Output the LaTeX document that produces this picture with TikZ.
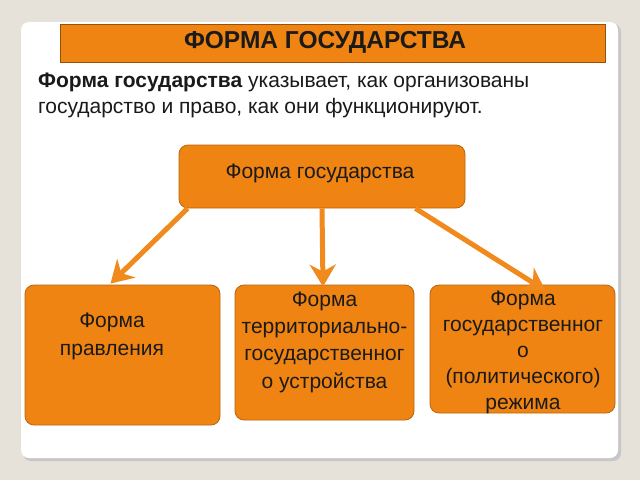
\documentclass[tikz,border=0pt]{standalone}
\usepackage{fontspec}
\setmainfont{Liberation Sans}
\usetikzlibrary{arrows.meta,calc}
\definecolor{bgc}{HTML}{E6E1D9}
\definecolor{orng}{HTML}{EF8412}
\definecolor{brd}{HTML}{B8650C}
\definecolor{arr}{HTML}{F08A1C}
\definecolor{txt}{HTML}{1A1A1A}
\tikzset{
  obox/.style={draw=brd, line width=0.8pt, fill=orng, rounded corners=9pt, inner sep=0pt},
  btext/.style={align=center, text=txt, inner sep=0pt},
  conn/.style={draw=arr, line width=5pt, -{Stealth[width=26pt,length=22pt,inset=7pt]}},
}
\begin{document}
\begin{tikzpicture}[x=1pt,y=-1pt]
\useasboundingbox (0,0) rectangle (640,480);
\fill[bgc] (0,0) rectangle (640,480);
% card shadow and card
\fill[black!22, rounded corners=8pt] (23,24) rectangle (621,461);
\fill[white, rounded corners=8pt] (21,22) rectangle (618,458);
% title
\node[draw=brd!80!black, line width=0.8pt, fill=orng, minimum width=545pt, minimum height=38pt, inner sep=0pt] (title) at (332.5,43) {};
\node[inner sep=0pt, font=\bfseries\fontsize{24.5}{26}\selectfont, text=txt] (titlet) at (325,42) {ФОРМА ГОСУДАРСТВА};
% paragraph
\node[anchor=base west, align=left, inner sep=0pt, font=\fontsize{21}{26}\selectfont, text=txt] (para) at (38,113)
  {\textbf{Форма государства} указывает, как организованы\\государство и право, как они функционируют.};
% top node
\node[obox, minimum width=286pt, minimum height=63pt] (top) at (322,176.5) {};
\node[btext, font=\fontsize{21}{26}\selectfont] (topt) at (320,173) {Форма государства};
% bottom boxes
\node[obox, minimum width=195pt, minimum height=140pt] (b1) at (122.5,355) {};
\node[btext, font=\fontsize{21}{28}\selectfont] (b1t) at (112,336) {Форма\\правления};
\node[obox, minimum width=179pt, minimum height=135pt] (b2) at (324.5,352.5) {};
\node[btext, font=\fontsize{21}{27.3}\selectfont] (b2t) at (324.5,342) {Форма\\территориально-\\государственног\\о устройства};
\node[obox, minimum width=185pt, minimum height=128pt] (b3) at (522.5,349) {};
\node[btext, font=\fontsize{21}{26}\selectfont] (b3t) at (523,352.5) {Форма\\государственног\\о\\(политического)\\режима};
% connectors
\draw[conn] ([xshift=9pt]top.south west) -- ([xshift=-12pt,yshift=1pt]b1.north);
\draw[conn] (top.south) -- ([xshift=-1.5pt,yshift=-2pt]b2.north);
\draw[conn] ([xshift=-50pt]top.south east) -- ([xshift=23pt,yshift=-6pt]b3.north);
\end{tikzpicture}
\end{document}
